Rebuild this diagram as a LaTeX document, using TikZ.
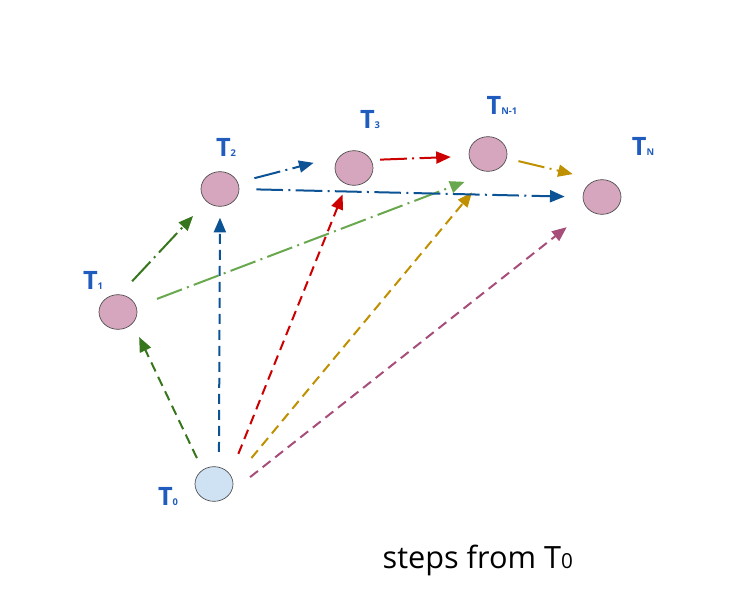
\documentclass[tikz,border=0pt]{standalone}
\usepackage{fontspec}
\setmainfont{Open Sans}
\usetikzlibrary{arrows.meta,shapes.geometric}

\definecolor{statepink}{RGB}{213,166,189}
\definecolor{startblue}{RGB}{207,226,243}
\definecolor{lblblue}{RGB}{32,92,190}
\definecolor{dkgreen}{RGB}{56,118,29}
\definecolor{ltgreen}{RGB}{106,168,79}
\definecolor{stepblue}{RGB}{11,83,148}
\definecolor{stepred}{RGB}{204,0,0}
\definecolor{stepgold}{RGB}{191,144,0}
\definecolor{steppurple}{RGB}{166,77,121}

\newcommand{\tsub}[1]{{\fontsize{7}{7}\selectfont #1}}

\begin{document}
\begin{tikzpicture}[x=0.75pt, y=-0.75pt,
            state/.style={ellipse, draw=gray!60!black, line width=0.5pt, fill=statepink,
                minimum width=28.5pt, minimum height=26pt, inner sep=0pt},
            lbl/.style={text=lblblue, font=\fontsize{19}{22}\selectfont\bfseries},
            jump/.style={-{Triangle[length=11pt, width=9pt]}, line width=1.5pt,
                dash pattern=on 7.5pt off 4.5pt},
            hop/.style={-{Triangle[length=11pt, width=9pt]}, line width=1.5pt,
                dash pattern=on 20pt off 4pt on 1.5pt off 4pt}]
            \useasboundingbox (0, 0) rectangle (747, 607);

            \node[state, fill=startblue] (t0) at (214, 484) {};
            \node[state] (t1) at (118, 312) {};
            \node[state] (t2) at (220, 189) {};
            \node[state] (t3) at (354, 168) {};
            \node[state] (tm) at (488, 154) {};
            \node[state] (tn) at (602, 197) {};

            \node[lbl] (l0) at (168, 496) {T\tsub{0}};
            \node[lbl] (l1) at (93, 280) {T\tsub{1}};
            \node[lbl] (l2) at (226, 147) {T\tsub{2}};
            \node[lbl] (l3) at (370, 120) {T\tsub{3}};
            \node[lbl] (lm) at (502, 105) {T\tsub{N-1}};
            \node[lbl] (ln) at (643, 146) {T\tsub{N}};

            \draw[jump, dkgreen, shorten <=9.75pt, shorten >=11.25pt] (t0.129) -- (t1.-38);
            \draw[jump, stepblue, shorten <=11.25pt, shorten >=8.25pt] (t0.74) -- (t2.-90);
            \draw[jump, stepred, shorten <=16.5pt, shorten >=8.25pt] (t0.31) -- (t3.-114);
            \draw[jump, stepgold, shorten <=21.75pt, shorten >=20.25pt] (t0.11) -- (tm.-86);
            \draw[jump, steppurple, shorten <=18pt, shorten >=21pt] (t0.-25) -- (tn.-136);

            \draw[hop, dkgreen, shorten <=13.5pt, shorten >=14.7pt] (t1.84) -- (t2.-137);
            \draw[hop, ltgreen, shorten <=16.5pt, shorten >=22.5pt] (t1.16) -- (tm.-75);
            \draw[hop, stepblue, shorten <=12.75pt, shorten >=20.25pt] (t2.20) -- (t3.140);
            \draw[hop, stepblue, shorten <=12.75pt, shorten >=13.5pt] (t2.0) -- (tn.180);
            \draw[hop, stepred, shorten <=6.75pt, shorten >=13.5pt] (t3.25) -- (tm.187);
            \draw[hop, stepgold, shorten <=9pt, shorten >=18.75pt] (tm.-13) -- (tn.106);

            \node[anchor=base west, font=\fontsize{23}{27}\selectfont] (cap) at (378, 568)
                {steps from T{\fontsize{15.5}{15.5}\selectfont 0}};
        \end{tikzpicture}
\end{document}
